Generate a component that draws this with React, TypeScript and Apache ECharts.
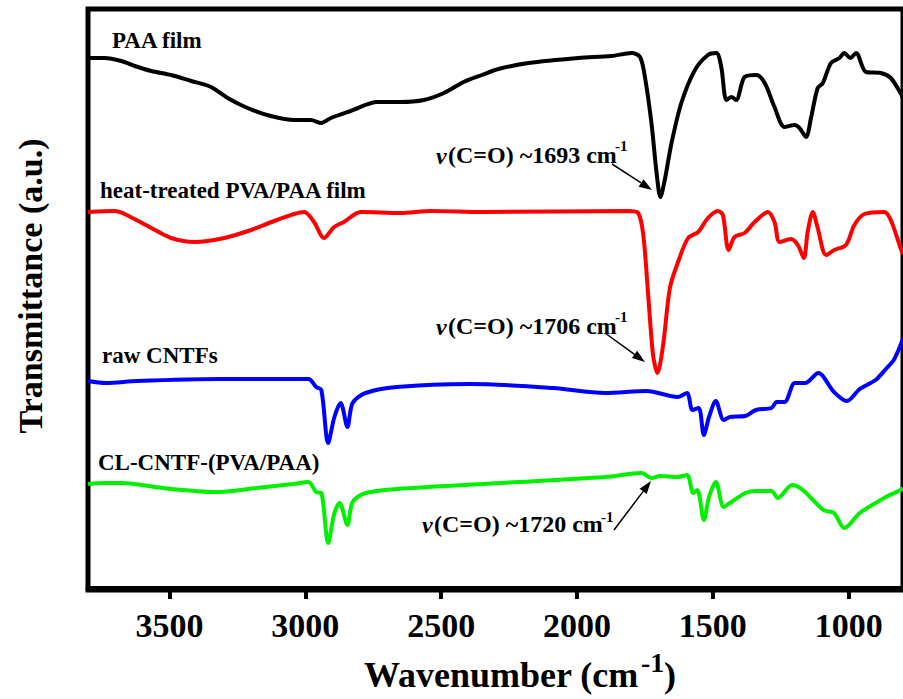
import React, { useEffect, useRef } from "react";
import * as echarts from "echarts";

// ---- Data (wavenumber cm^-1, transmittance a.u.) ----
const paaFilm: number[][] = [
  [3800, 530], [3739, 530], [3677, 527], [3628, 522], [3567, 517], [3494, 513], [3420, 507], [3347, 501],
  [3286, 490], [3213, 480], [3127, 472], [3041, 468], [2980, 468], [2941, 465], [2906, 470], [2833, 477],
  [2735, 486], [2649, 486], [2564, 488], [2490, 495], [2417, 506], [2350, 513], [2289, 519], [2178, 525],
  [1995, 530], [1873, 532], [1799, 535], [1768, 531], [1750, 511], [1726, 465], [1707, 415], [1693, 391],
  [1677, 408], [1652, 445], [1616, 485], [1566, 518], [1518, 533], [1487, 535], [1469, 521], [1450, 488],
  [1432, 491], [1414, 488], [1383, 511], [1340, 513], [1309, 505], [1273, 481], [1236, 461], [1199, 463],
  [1181, 460], [1157, 451], [1138, 471], [1114, 500], [1095, 505], [1065, 525], [1034, 530], [1016, 535],
  [994, 530], [973, 535], [936, 516], [881, 515], [845, 510], [809, 495], [800, 490],
];

const heatTreated: number[][] = [
  [3800, 376], [3702, 377], [3665, 374], [3567, 360], [3494, 350], [3408, 346], [3298, 350], [3200, 358],
  [3115, 367], [3041, 374], [3004, 376], [2968, 366], [2931, 350], [2894, 361], [2858, 366], [2796, 376],
  [2649, 375], [2539, 377], [2344, 376], [1811, 377], [1775, 375], [1756, 353], [1738, 293], [1720, 233],
  [1704, 215], [1683, 243], [1658, 300], [1628, 326], [1591, 350], [1554, 356], [1518, 370], [1481, 377],
  [1463, 373], [1442, 338], [1420, 351], [1383, 355], [1346, 366], [1297, 376], [1273, 366], [1254, 346],
  [1212, 349], [1187, 343], [1165, 330], [1151, 356], [1132, 376], [1114, 360], [1083, 333], [1053, 338],
  [1010, 343], [979, 363], [942, 374], [869, 376], [845, 368], [809, 340], [800, 334],
];

const rawCNTFs: number[][] = [
  [3800, 207], [3735, 205], [3620, 207], [3314, 209], [2989, 209], [2960, 201], [2941, 198], [2916, 145],
  [2893, 171], [2870, 185], [2845, 161], [2826, 185], [2778, 195], [2663, 201], [2395, 204], [2088, 200],
  [1897, 195], [1744, 197], [1629, 191], [1595, 195], [1575, 178], [1552, 180], [1533, 153], [1514, 171],
  [1489, 187], [1460, 168], [1437, 171], [1380, 172], [1341, 178], [1284, 180], [1265, 186], [1236, 186],
  [1198, 205], [1160, 205], [1112, 215], [1054, 196], [1007, 187], [959, 199], [901, 208], [863, 219],
  [834, 228], [809, 243], [800, 250],
];

const clCNTF: number[][] = [
  [3800, 104], [3735, 105], [3678, 105], [3525, 100], [3333, 96], [3180, 100], [3046, 104], [2989, 106],
  [2960, 96], [2941, 95], [2916, 45], [2893, 75], [2874, 85], [2845, 63], [2826, 86], [2778, 95],
  [2663, 99], [2280, 105], [1897, 111], [1763, 115], [1725, 110], [1696, 112], [1629, 111], [1595, 113],
  [1572, 95], [1557, 98], [1533, 68], [1514, 91], [1489, 106], [1460, 81], [1437, 85], [1380, 95],
  [1341, 97], [1284, 97], [1261, 90], [1208, 103], [1169, 98], [1093, 78], [1054, 75], [1016, 60],
  [959, 75], [863, 91], [809, 98], [800, 100],
];

const seriesNames = ["PAA film", "heat-treated PVA/PAA film", "raw CNTFs", "CL-CNTF-(PVA/PAA)"];
const seriesColors = ["#000000", "#ff0000", "#0000ff", "#00f000"];
const tickValues = [1000, 1500, 2000, 2500, 3000, 3500];
const peakLabels = ["~1693 cm", "~1706 cm", "~1720 cm"];

const FONT = "Liberation Serif";

function txt(x: number, y: number, text: string, size: number, align: string = "left", el: any = {}) {
  return {
    type: "text",
    x,
    y,
    ...el,
    style: {
      text,
      font: `bold ${size}px "${FONT}"`,
      fontSize: size,
      fontWeight: "bold",
      fontFamily: FONT,
      fill: "#000",
      align,
      verticalAlign: "middle",
    },
  };
}

function arrow(x1: number, y1: number, x2: number, y2: number) {
  const a = Math.atan2(y2 - y1, x2 - x1);
  const L = 13;
  const W = 4.5;
  const bx = x2 - L * Math.cos(a);
  const by = y2 - L * Math.sin(a);
  return [
    { type: "line", shape: { x1, y1, x2: bx, y2: by }, style: { stroke: "#000", lineWidth: 1.5 } },
    {
      type: "polygon",
      shape: {
        points: [
          [x2, y2],
          [bx - W * Math.sin(a), by + W * Math.cos(a)],
          [bx + W * Math.sin(a), by - W * Math.cos(a)],
        ],
      },
      style: { fill: "#000" },
    },
  ];
}

function annotation(x: number, y: number, label: string, supX: number, supY: number) {
  return [
    txt(x, y + 1, "ν", 24, "left", { style: {} }),
    txt(x + 12, y, "(C=O) " + label, 24),
    txt(supX, supY, "-1", 15),
  ].map((e: any, i: number) =>
    i === 0
      ? { ...e, style: { ...e.style, font: `italic bold 24px "${FONT}"`, fontStyle: "italic" } }
      : e
  );
}

export default function App() {
  const ref = useRef<HTMLDivElement>(null);

  useEffect(() => {
    if (!ref.current) return;
    const chart = echarts.init(ref.current, null, { renderer: "svg" });
    const datasets = [paaFilm, heatTreated, rawCNTFs, clCNTF];

    const option: any = {
      animation: false,
      grid: {
        left: 88,
        top: 9,
        width: 817,
        bottom: 109,
        show: true,
        borderColor: "#000",
        borderWidth: 5,
        backgroundColor: "transparent",
      },
      xAxis: {
        type: "value",
        inverse: true,
        min: 800,
        max: 3800,
        axisLine: { show: true, lineStyle: { color: "#000", width: 5 } },
        axisTick: {
          show: true,
          customValues: tickValues,
          length: 11,
          inside: false,
          lineStyle: { color: "#000", width: 4 },
        },
        axisLabel: {
          show: true,
          customValues: tickValues,
          formatter: (v: number) => String(v),
          fontSize: 34,
          fontWeight: "bold",
          fontFamily: FONT,
          color: "#000",
          margin: 18,
        },
        splitLine: { show: false },
      },
      yAxis: {
        type: "value",
        min: -2,
        max: 579,
        show: false,
      },
      series: datasets.map((d, i) => ({
        name: seriesNames[i],
        type: "line",
        data: d,
        showSymbol: false,
        smooth: 0.3,
        lineStyle: { color: seriesColors[i], width: 4 },
        itemStyle: { color: seriesColors[i] },
        z: 3,
      })),
      graphic: [
        // axis titles
        txt(30, 286, "Transmittance (a.u.)", 34, "center", { rotation: Math.PI / 2 }),
        txt(364, 675, "Wavenumber (cm", 36),
        txt(641, 662, "-1", 28),
        txt(664, 675, ")", 36),
        // series labels
        txt(112, 40, seriesNames[0], 23),
        txt(100, 190, seriesNames[1], 23),
        txt(102, 355, seriesNames[2], 23),
        txt(98, 462, seriesNames[3], 23),
        // annotations
        ...annotation(436, 155, peakLabels[0], 615, 146),
        ...arrow(612, 164, 652, 190),
        ...annotation(436, 326, peakLabels[1], 615, 317),
        ...arrow(605, 333, 645, 362),
        ...annotation(422, 524, peakLabels[2], 601, 517),
        ...arrow(614, 530, 651, 481),
      ],
    };

    chart.setOption(option);
    return () => chart.dispose();
  }, []);

  return <div ref={ref} style={{ position: "absolute", left: 0, top: 0, width: 903, height: 699 }} />;
}
